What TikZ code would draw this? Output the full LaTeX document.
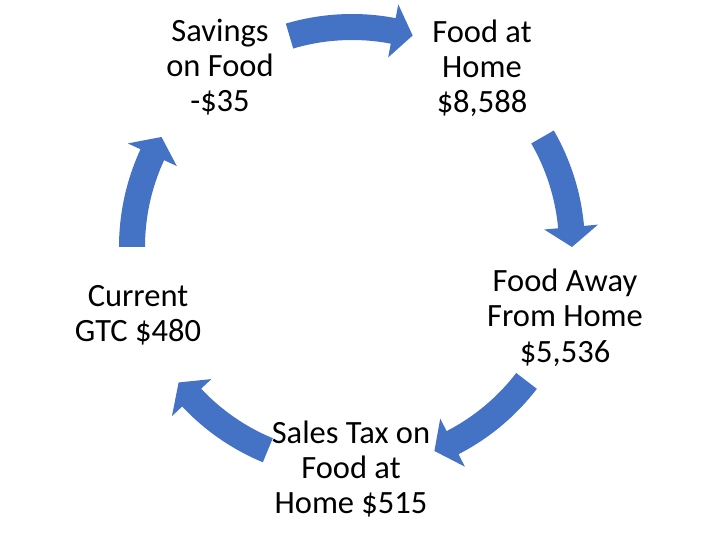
\documentclass[tikz,border=0pt]{standalone}
\usepackage{fontspec}
\setmainfont{Carlito}
\definecolor{sablue}{HTML}{4472C4}
\tikzset{
  lbl/.style={align=center, anchor=base, inner sep=0pt, font=\fontsize{32.5}{35}\selectfont, text=black},
  arrowfill/.style={fill=sablue}
}
\newcommand\cycarrow[2]{%
  \pgfmathsetmacro\hbang{#2+5.2}%
  \fill[arrowfill, shift={(352,297)}] (#1:233) arc[start angle=#1, end angle=\hbang, radius=233pt]
    -- (\hbang:247) -- (#2:220) -- (\hbang:193) -- (\hbang:207)
    arc[start angle=\hbang, end angle=#1, radius=207pt] -- cycle;
}
\begin{document}
\begin{tikzpicture}[x=1pt,y=1pt]
\useasboundingbox (0,0) rectangle (720,544);
\node[lbl] (savings) at (220,432) {Savings\\on Food\\-\$35};
\node[lbl] (home) at (482,431) {Food at\\Home\\\$8,588};
\node[lbl] (away) at (565,182) {Food Away\\From Home\\\$5,536};
\node[lbl] (tax) at (351,31) {Sales Tax on\\Food at\\Home \$515};
\node[lbl] (gtc) at (138,202) {Current\\GTC \$480};
\cycarrow{106.5}{74}
\cycarrow{30}{0}
\cycarrow{-37.5}{-68}
\cycarrow{-112.5}{-142}
\cycarrow{180}{150}
\end{tikzpicture}
\end{document}
